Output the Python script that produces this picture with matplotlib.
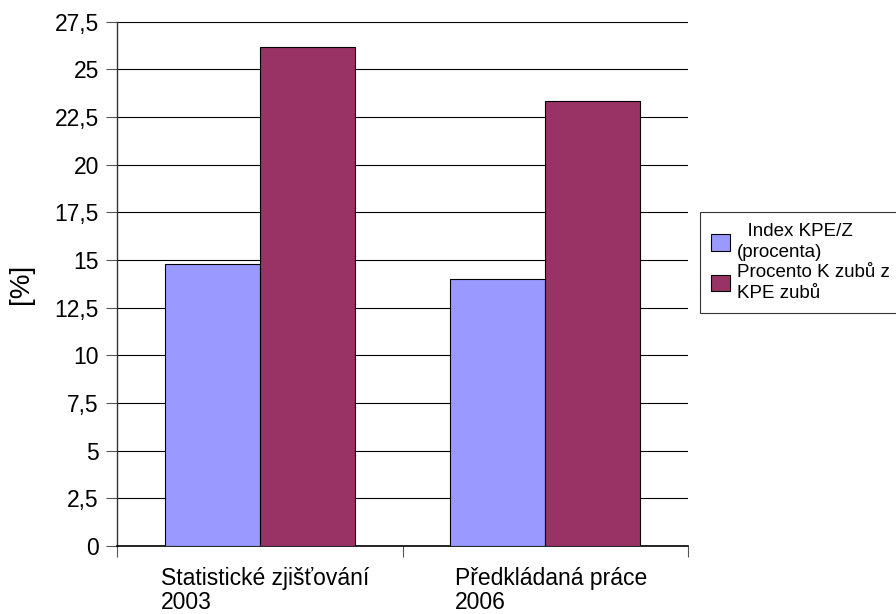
import matplotlib
matplotlib.use("Agg")
import matplotlib.pyplot as plt
import numpy as np

plt.rcParams["font.family"] = ["Liberation Sans", "DejaVu Sans"]

categories = ["Statistické zjišťování\n2003", "Předkládaná práce\n2006"]
index_kpe = [14.8, 14.0]
procento_k = [26.15, 23.35]
series_labels = ["  Index KPE/Z\n(procenta)", "Procento K zubů z\nKPE zubů"]
yticks = np.arange(0, 27.6, 2.5)
ytick_labels = [f"{t:g}".replace(".", ",") for t in yticks]

fig = plt.figure(figsize=(8.96, 6.14), dpi=100)
ax = fig.add_axes([117 / 896, 1 - 546 / 614, (688 - 117) / 896, (546 - 21.7) / 614])

x = np.arange(len(categories))
w = 1 / 3
b1 = ax.bar(x - w / 2, index_kpe, w, color="#9999FF", edgecolor="black", linewidth=0.8,
            label=series_labels[0], zorder=3)
b2 = ax.bar(x + w / 2, procento_k, w, color="#993366", edgecolor="black", linewidth=0.8,
            label=series_labels[1], zorder=3)

ax.set_xlim(-0.5, 1.5)
ax.set_ylim(0, 27.5)
ax.set_yticks(yticks)
ax.set_yticklabels(ytick_labels, fontsize=16.5)
ax.yaxis.grid(True, color="black", linewidth=0.8, zorder=0)
ax.set_axisbelow(True)

# category labels under the bars, ticks on the boundaries
ax.set_xticks([-0.5, 0.5, 1.5])
ax.set_xticklabels([])
ax.tick_params(axis="x", length=8, width=0.8, color="#555555")
ax.tick_params(axis="y", length=8, width=0.8, color="#555555", pad=5)
for xi, lab in zip(x, categories):
    ax.text(xi + 0.02, -0.04, lab, transform=ax.get_xaxis_transform(), ha="center",
            va="top", multialignment="left", fontsize=16.5, linespacing=1.05)

for s in ["top", "right"]:
    ax.spines[s].set_visible(False)
ax.spines["left"].set_color("#333333")
ax.spines["bottom"].set_color("black")
ax.spines["left"].set_linewidth(1.0)
ax.spines["bottom"].set_linewidth(1.2)

ax.set_ylabel("[%]", fontsize=20, labelpad=15)

leg = fig.legend(handles=[b1, b2], loc="upper left",
                 bbox_to_anchor=(700 / 896, 1 - 212 / 614), fontsize=13.5,
                 frameon=True, fancybox=False, shadow=False, borderpad=0.6,
                 handlelength=1.0, handleheight=1.0, handletextpad=0.35,
                 labelspacing=0.15, borderaxespad=0)
leg.get_frame().set_edgecolor("black")
leg.get_frame().set_linewidth(0.8)
for t in leg.get_texts():
    t.set_linespacing(1.3)

fig.savefig("out.png", dpi=100)
